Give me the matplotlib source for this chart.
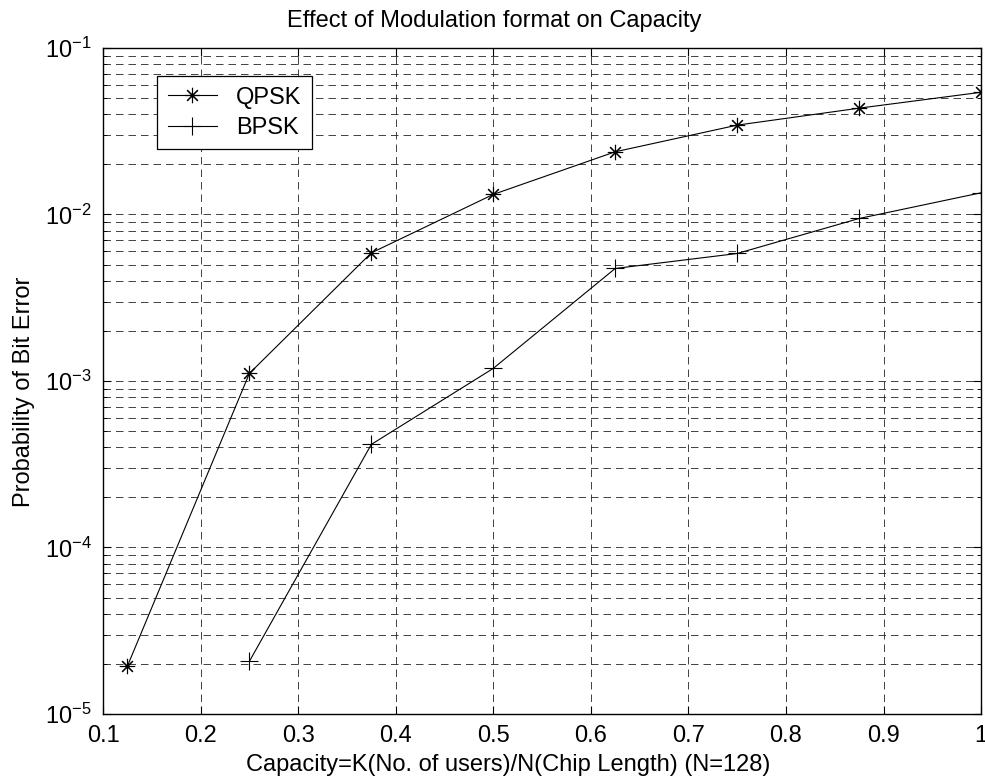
import numpy as np
import matplotlib
matplotlib.use('Agg')
import matplotlib.pyplot as plt
from matplotlib.ticker import LogLocator, NullFormatter

plt.rcParams['font.family'] = ['Liberation Sans', 'DejaVu Sans']
plt.rcParams['mathtext.fontset'] = 'custom'
plt.rcParams['mathtext.rm'] = 'Liberation Sans'
plt.rcParams['mathtext.it'] = 'Liberation Sans:italic'
plt.rcParams['mathtext.bf'] = 'Liberation Sans:bold'

# capacity K/N with N=128
capacity = [0.125, 0.25, 0.375, 0.5, 0.625, 0.75, 0.875, 1.0]
qpsk_ber = [1.94e-5, 1.11e-3, 5.88e-3, 1.32e-2, 2.38e-2, 3.44e-2, 4.35e-2, 5.42e-2]
bpsk_cap = [0.25, 0.375, 0.5, 0.625, 0.75, 0.875, 1.0]
bpsk_ber = [2.07e-5, 4.16e-4, 1.19e-3, 4.74e-3, 5.83e-3, 9.46e-3, 1.35e-2]
xticks = [0.1, 0.2, 0.3, 0.4, 0.5, 0.6, 0.7, 0.8, 0.9, 1.0]
xticklabels = ['0.1', '0.2', '0.3', '0.4', '0.5', '0.6', '0.7', '0.8', '0.9', '1']


def run_main():
    fig = plt.figure(figsize=(9.85, 7.84), dpi=100)
    ax = fig.add_axes([0.1046, 0.0893, 0.8914, 0.8495])

    # matlab '*' is an 8 arm asterisk
    ax.plot(capacity, qpsk_ber, color='k', lw=0.8, marker=(8, 2, 0),
            markersize=11, markeredgewidth=0.8, label='QPSK')
    ax.plot(bpsk_cap, bpsk_ber, color='k', lw=0.8, marker='+',
            markersize=13, markeredgewidth=0.8, label='BPSK')

    ax.set_yscale('log')
    ax.set_xlim(0.1, 1.0)
    ax.set_ylim(1e-5, 1e-1)
    ax.set_xticks(xticks)
    ax.set_xticklabels(xticklabels)
    ax.yaxis.set_major_locator(LogLocator(base=10, numticks=10))
    ax.yaxis.set_minor_locator(LogLocator(base=10, subs=np.arange(2, 10), numticks=20))
    ax.yaxis.set_minor_formatter(NullFormatter())

    # MATLAB style dashed grid, everything boxed
    ax.grid(True, which='major', axis='both', color='#222222', lw=0.6, dashes=(9, 6))
    ax.grid(True, which='minor', axis='y', color='#222222', lw=0.6, dashes=(9, 6))
    ax.set_axisbelow(True)
    ax.tick_params(which='both', direction='in', top=True, right=True,
                   labelsize=17, pad=8)
    ax.tick_params(which='major', length=6)
    ax.tick_params(which='minor', length=3)
    for s in ax.spines.values():
        s.set_linewidth(1.0)

    ax.set_title('Effect of Modulation format on Capacity', fontsize=17, x=0.446, pad=15)
    ax.set_xlabel('Capacity=K(No. of users)/N(Chip Length) (N=128)', fontsize=17,
                  x=0.461, labelpad=5)
    ax.set_ylabel('Probability of Bit Error', fontsize=17, y=0.483, labelpad=7)

    leg = ax.legend(loc='upper left', bbox_to_anchor=(0.0615, 0.958), fontsize=17,
                    fancybox=False, framealpha=1, edgecolor='k', handlelength=2.1,
                    borderpad=0.45, labelspacing=0.35, handletextpad=0.8, borderaxespad=0)
    leg.get_frame().set_linewidth(0.9)

    fig.savefig('out.png', dpi=100)


if __name__ == "__main__":
    run_main()
